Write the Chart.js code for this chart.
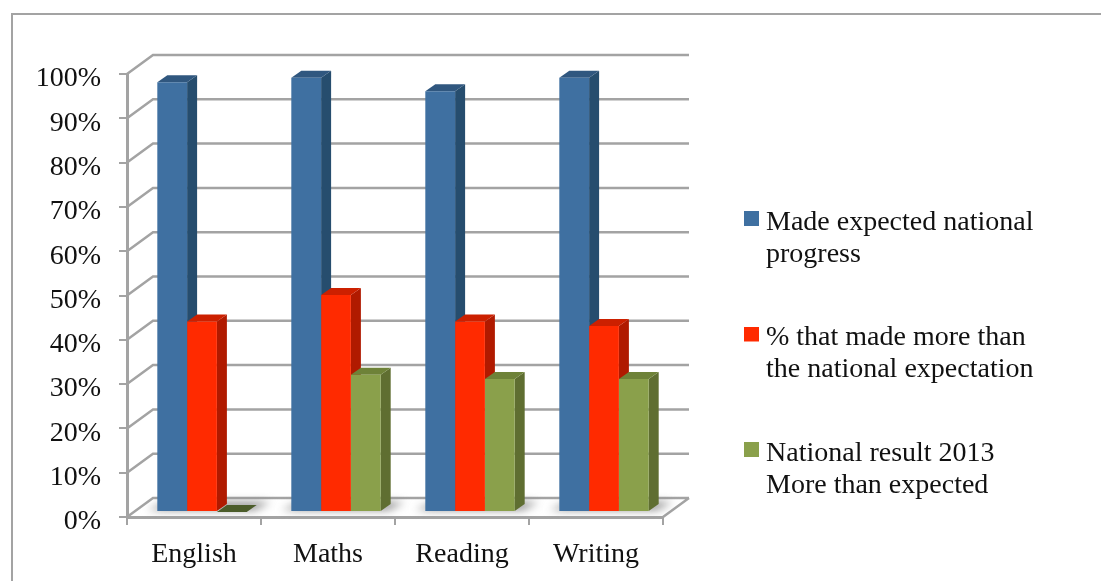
<!DOCTYPE html>
<html>
<head>
<meta charset="utf-8">
<title>Progress chart</title>
<script src="https://cdn.jsdelivr.net/npm/chart.js@4/dist/chart.umd.min.js"></script>
<style>
	html,body{margin:0;padding:0;background:#fff;}
	#wrap{position:relative;width:1101px;height:581px;}
</style>
</head>
<body>
<div id="wrap"><canvas id="chart" width="1101" height="581"></canvas></div>
<script>
// values
const categories = ['English', 'Maths', 'Reading', 'Writing'];
const madeExpected = [97, 98, 95, 98];
const madeMore = [43, 49, 43, 42];
const nationalMore = [0, 31, 30, 30];
const seriesNames = [
	['Made expected national', 'progress'],
	['% that made more than', 'the national expectation'],
	['National result 2013', 'More than expected']
];
const yTicks = [0, 10, 20, 30, 40, 50, 60, 70, 80, 90, 100];

// colours: front, side, top
const faceColors = ['#3f70a1', '#ff2a00', '#8aa04b'];
const sideColors = ['#264d6e', '#b01a00', '#5f6e31'];
const topColors = ['#30577f', '#cc2000', '#6e8238'];
const gridColor = '#a3a3a3';
const FONT = '"Liberation Serif", serif';
const FONT_SIZE = 28;

// 3D look
const WALL_DX = 26, WALL_DY = -19;   // front plane -> back wall
const BAR_DX = 8, BAR_DY = -5;       // front plane -> bar fronts
const DEPTH_DX = 10, DEPTH_DY = -7;  // bar depth

function poly(ctx, pts, fill){
	ctx.beginPath();
	pts.forEach((p, i)=>{ i ? ctx.lineTo(p[0], p[1]) : ctx.moveTo(p[0], p[1]); });
	ctx.closePath();
	ctx.fillStyle = fill;
	ctx.fill();
}

// legend swatch: the legend puts the text font.size/2 after the box, too far for this
// chart, so the box is an image point style and pointStyleWidth pulls the text back.
// Extra transparent height lifts the square a little against the text.
function swatch(color){
	const c = document.createElement('canvas');
	c.width = 15;
	c.height = 23;
	const g = c.getContext('2d');
	g.fillStyle = color;
	g.fillRect(0, 0, 15, 15);
	return c;
}

const frame = {
	id: 'frame',
	beforeDraw(chart){
		const ctx = chart.ctx;
		ctx.save();
		ctx.strokeStyle = gridColor;
		ctx.lineWidth = 2;
		ctx.beginPath();
		ctx.moveTo(12, 581);
		ctx.lineTo(12, 14);
		ctx.lineTo(1101, 14);
		ctx.stroke();
		ctx.restore();
	}
};

// back wall, side wall and floor lines, taken from the scales
const walls = {
	id: 'walls',
	beforeDatasetsDraw(chart){
		const ctx = chart.ctx, y = chart.scales.y, a = chart.chartArea;
		ctx.save();
		ctx.strokeStyle = gridColor;
		ctx.lineWidth = 2.5;
		yTicks.forEach(v=>{
			const py = y.getPixelForValue(v);
			ctx.beginPath();
			ctx.moveTo(a.left, py);
			ctx.lineTo(a.left + WALL_DX, py + WALL_DY);
			ctx.lineTo(a.right + WALL_DX, py + WALL_DY);
			if(v === 0){
				ctx.moveTo(a.right, py);
				ctx.lineTo(a.right + WALL_DX, py + WALL_DY);
			}
			ctx.stroke();
		});
		ctx.restore();
	}
};

// side and top faces of the bars, the fronts are the library's own bars
const bars3d = {
	id: 'bars3d',
	beforeDatasetsDraw(chart){
		const ctx = chart.ctx;
		ctx.save();
		ctx.translate(BAR_DX, BAR_DY);
		// soft shadow on the floor
		const first = chart.getDatasetMeta(0).data;
		const last = chart.getDatasetMeta(2).data;
		first.forEach((el, i)=>{
			const l = el.x - el.width / 2, r = last[i].x + last[i].width / 2, b = el.base;
			ctx.save();
			ctx.filter = 'blur(4px)';
			poly(ctx, [[l - 10, b - 1], [r + 8, b - 1], [r + DEPTH_DX + 14, b + 1.3 * DEPTH_DY], [l + DEPTH_DX, b + 1.3 * DEPTH_DY]], '#8c8c8c');
			ctx.restore();
		});
		chart.data.datasets.forEach((ds, d)=>{
			chart.getDatasetMeta(d).data.forEach((el, i)=>{
				const r = el.x + el.width / 2, l = el.x - el.width / 2;
				const t = el.y, b = el.base;
				const zero = ds.data[i] === 0;
				poly(ctx, [[r, t], [r + DEPTH_DX, t + DEPTH_DY], [r + DEPTH_DX, b + DEPTH_DY], [r, b]], sideColors[d]);
				poly(ctx, [[l, t], [r, t], [r + DEPTH_DX, t + DEPTH_DY], [l + DEPTH_DX, t + DEPTH_DY]], zero ? '#4b5c2a' : topColors[d]);
			});
		});
		// stays translated for the fronts
	},
	afterDatasetsDraw(chart){
		chart.ctx.restore();
	}
};

// legend sits right of the plot, moved there once the layout is done
const legendPlace = {
	id: 'legendPlace',
	afterLayout(chart){
		const lg = chart.legend;
		lg.left = 751 - 51.5;
		lg.top = 208.5 - 51.5;
		lg.right = 1101;
		lg.bottom = 581;
	}
};

const datasets = [madeExpected, madeMore, nationalMore].map((vals, d)=>({
	label: seriesNames[d],
	data: vals,
	backgroundColor: faceColors[d],
	borderWidth: 0,
	categoryPercentage: 0.667,
	barPercentage: 1,
	clip: false,
	order: d
}));

new Chart(document.getElementById('chart'), {
	type: 'bar',
	data: {labels: categories, datasets: datasets},
	plugins: [frame, walls, bars3d, legendPlace],
	options: {
		responsive: false,
		animation: false,
		layout: {padding: {left: 0, top: 74, right: 438, bottom: 0}},
		plugins: {
			tooltip: {enabled: false},
			legend: {
				position: 'chartArea',
				align: 'start',
				labels: {
					font: {family: FONT, size: FONT_SIZE, lineHeight: 32 / FONT_SIZE},
					color: '#111',
					usePointStyle: true,
					pointStyleWidth: 1,
					boxHeight: 15,
					padding: 51.5,
					generateLabels(chart){
						return Chart.defaults.plugins.legend.labels.generateLabels(chart).map((item, i)=>{
							item.pointStyle = swatch(faceColors[i]);
							return item;
						});
					}
				}
			}
		},
		scales: {
			x: {
				afterFit(axis){ axis.height = 64; },
				grid: {drawOnChartArea: false, color: gridColor, lineWidth: 2, tickLength: 8},
				border: {color: gridColor, width: 3},
				ticks: {font: {family: FONT, size: FONT_SIZE}, color: '#111', padding: 13, maxRotation: 0}
			},
			y: {
				min: 0,
				max: 100,
				afterFit(axis){ axis.width = 127; },
				afterBuildTicks(axis){ axis.ticks = yTicks.map(v=>({value: v})); },
				grid: {drawOnChartArea: false, color: gridColor, lineWidth: 2, tickLength: 8},
				border: {color: gridColor, width: 3},
				ticks: {
					font: {family: FONT, size: FONT_SIZE},
					color: '#111',
					padding: 18,
					labelOffset: 5,
					callback: v=>v + '%'
				}
			}
		}
	}
});
</script>
</body>
</html>
